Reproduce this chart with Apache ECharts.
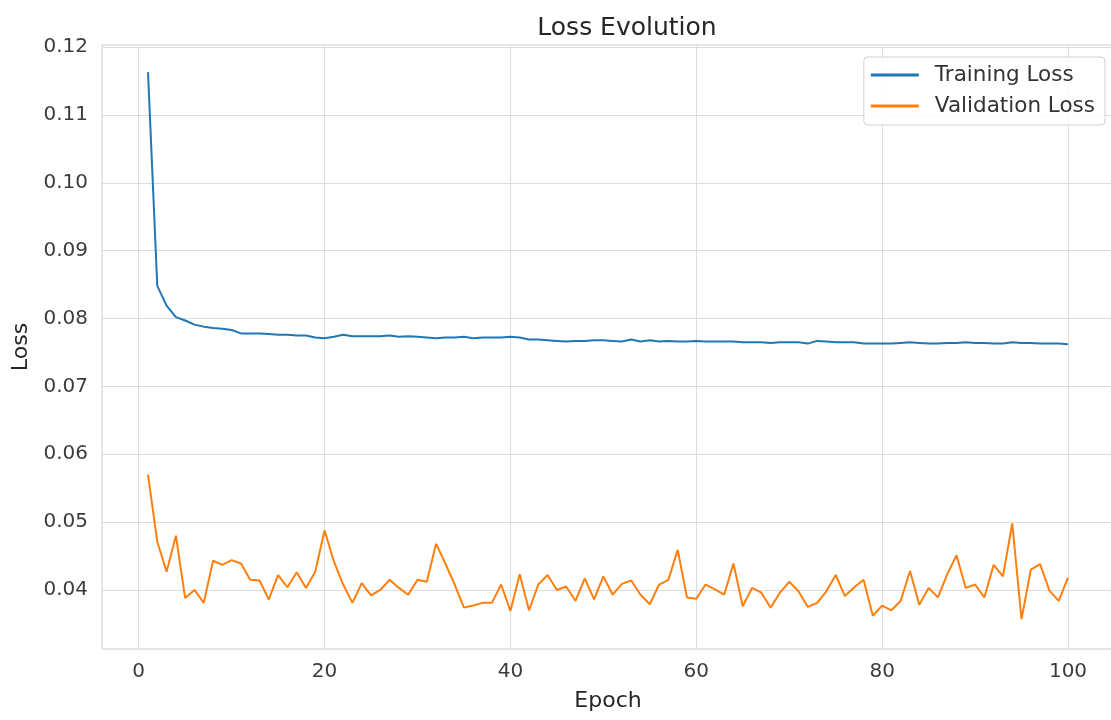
<!DOCTYPE html>
<html>
<head>
<meta charset="utf-8">
<script src="https://cdn.jsdelivr.net/npm/echarts@6/dist/echarts.min.js"></script>
<style>
  html, body { margin: 0; padding: 0; background: #fff; }
  #chart { width: 1111px; height: 720px; }
</style>
</head>
<body>
<div id="chart"></div>
<script>
// epochs 1..100
const epochs = [];
for (let i = 1; i <= 100; i++) epochs.push(i);

const trainingLoss = [
  0.1163, 0.0848, 0.0819, 0.0802, 0.0797, 0.0791, 0.0788, 0.0786, 0.0785, 0.0783,
  0.0778, 0.0778, 0.0778, 0.0777, 0.0776, 0.0776, 0.0775, 0.0775, 0.0772, 0.0771,
  0.0773, 0.0776, 0.0774, 0.0774, 0.0774, 0.0774, 0.0775, 0.0773, 0.0774, 0.0773,
  0.0772, 0.0771, 0.0772, 0.0772, 0.0773, 0.0771, 0.0772, 0.0772, 0.0772, 0.0773,
  0.0772, 0.0769, 0.0769, 0.0768, 0.0767, 0.0766, 0.0767, 0.0767, 0.0768, 0.0768,
  0.0767, 0.0766, 0.0769, 0.0766, 0.0768, 0.0766, 0.0767, 0.0766, 0.0766, 0.0767,
  0.0766, 0.0766, 0.0766, 0.0766, 0.0765, 0.0765, 0.0765, 0.0764, 0.0765, 0.0765,
  0.0765, 0.0763, 0.0767, 0.0766, 0.0765, 0.0765, 0.0765, 0.0763, 0.0763, 0.0763,
  0.0763, 0.0764, 0.0765, 0.0764, 0.0763, 0.0763, 0.0764, 0.0764, 0.0765, 0.0764,
  0.0764, 0.0763, 0.0763, 0.0765, 0.0764, 0.0764, 0.0763, 0.0763, 0.0763, 0.0762
];

const validationLoss = [
  0.0570, 0.0471, 0.0427, 0.0480, 0.0388, 0.0400, 0.0381, 0.0443, 0.0437, 0.0444,
  0.0439, 0.0415, 0.0414, 0.0386, 0.0422, 0.0404, 0.0426, 0.0403, 0.0427, 0.0488,
  0.0442, 0.0408, 0.0381, 0.0410, 0.0392, 0.0400, 0.0415, 0.0403, 0.0393, 0.0415,
  0.0412, 0.0468, 0.0439, 0.0408, 0.0374, 0.0377, 0.0381, 0.0381, 0.0408, 0.0369,
  0.0423, 0.0370, 0.0408, 0.0422, 0.0400, 0.0405, 0.0384, 0.0417, 0.0386, 0.0420,
  0.0393, 0.0409, 0.0414, 0.0393, 0.0379, 0.0408, 0.0415, 0.0459, 0.0389, 0.0387,
  0.0408, 0.0401, 0.0393, 0.0439, 0.0376, 0.0403, 0.0396, 0.0374, 0.0396, 0.0412,
  0.0398, 0.0375, 0.0381, 0.0398, 0.0422, 0.0391, 0.0404, 0.0415, 0.0362, 0.0377,
  0.0370, 0.0384, 0.0428, 0.0378, 0.0403, 0.0389, 0.0423, 0.0451, 0.0403, 0.0408,
  0.0389, 0.0437, 0.0420, 0.0498, 0.0357, 0.0430, 0.0438, 0.0399, 0.0384, 0.0418
];

const xTicks = [0, 20, 40, 60, 80, 100];
const yTicks = [0.04, 0.05, 0.06, 0.07, 0.08, 0.09, 0.10, 0.11, 0.12];

const font = 'DejaVu Sans';
const gridColor = '#dddddd';

const chart = echarts.init(document.getElementById('chart'));

chart.setOption({
  animation: false,
  backgroundColor: '#ffffff',
  textStyle: { fontFamily: font },
  title: {
    text: 'Loss Evolution',
    left: 622,
    textAlign: 'center',
    top: 11,
    textStyle: { fontFamily: font, fontSize: 25, fontWeight: 'normal', color: '#262626' }
  },
  legend: {
    orient: 'vertical',
    right: 6,
    top: 57,
    padding: [7, 10, 8, 7],
    itemGap: 9,
    itemWidth: 48,
    itemHeight: 3,
    icon: 'rect',
    borderColor: '#d0d0d0',
    borderWidth: 1,
    borderRadius: 4,
    backgroundColor: 'rgba(255,255,255,0.85)',
    textStyle: { fontFamily: font, fontSize: 21.5, color: '#333333', padding: [0, 0, 0, 11] },
    data: ['Training Loss', 'Validation Loss']
  },
  grid: {
    left: 102,
    top: 45,
    width: 1012,
    height: 604,
    show: true,
    borderColor: '#cccccc',
    borderWidth: 1,
    outerBoundsMode: 'none',
    containLabel: false
  },
  xAxis: {
    type: 'value',
    min: -3.95,
    max: 104.95,
    name: 'Epoch',
    nameLocation: 'middle',
    nameGap: 41,
    nameTextStyle: { fontFamily: font, fontSize: 22, color: '#262626' },
    axisLine: { show: false },
    axisTick: { show: false, customValues: xTicks },
    axisLabel: {
      fontFamily: font, fontSize: 20, color: '#3c3c3c', margin: 13,
      customValues: xTicks,
      formatter: v => String(Math.round(v))
    },
    splitLine: { show: true, lineStyle: { color: gridColor, width: 1 } }
  },
  yAxis: {
    type: 'value',
    min: 0.0313,
    max: 0.1203,
    name: 'Loss',
    nameLocation: 'middle',
    nameGap: 67,
    nameRotate: 90,
    nameTextStyle: { fontFamily: font, fontSize: 22, color: '#262626' },
    axisLine: { show: false },
    axisTick: { show: false, customValues: yTicks },
    axisLabel: {
      fontFamily: font, fontSize: 20, color: '#3c3c3c', margin: 14,
      customValues: yTicks,
      formatter: v => v.toFixed(2)
    },
    splitLine: { show: true, lineStyle: { color: gridColor, width: 1 } }
  },
  series: [
    {
      name: 'Training Loss',
      type: 'line',
      data: epochs.map((e, i) => [e, trainingLoss[i]]),
      symbol: 'none',
      lineStyle: { color: '#1f77b4', width: 2 },
      itemStyle: { color: '#1f77b4' }
    },
    {
      name: 'Validation Loss',
      type: 'line',
      data: epochs.map((e, i) => [e, validationLoss[i]]),
      symbol: 'none',
      lineStyle: { color: '#ff7f0e', width: 2 },
      itemStyle: { color: '#ff7f0e' }
    }
  ]
});
</script>
</body>
</html>
